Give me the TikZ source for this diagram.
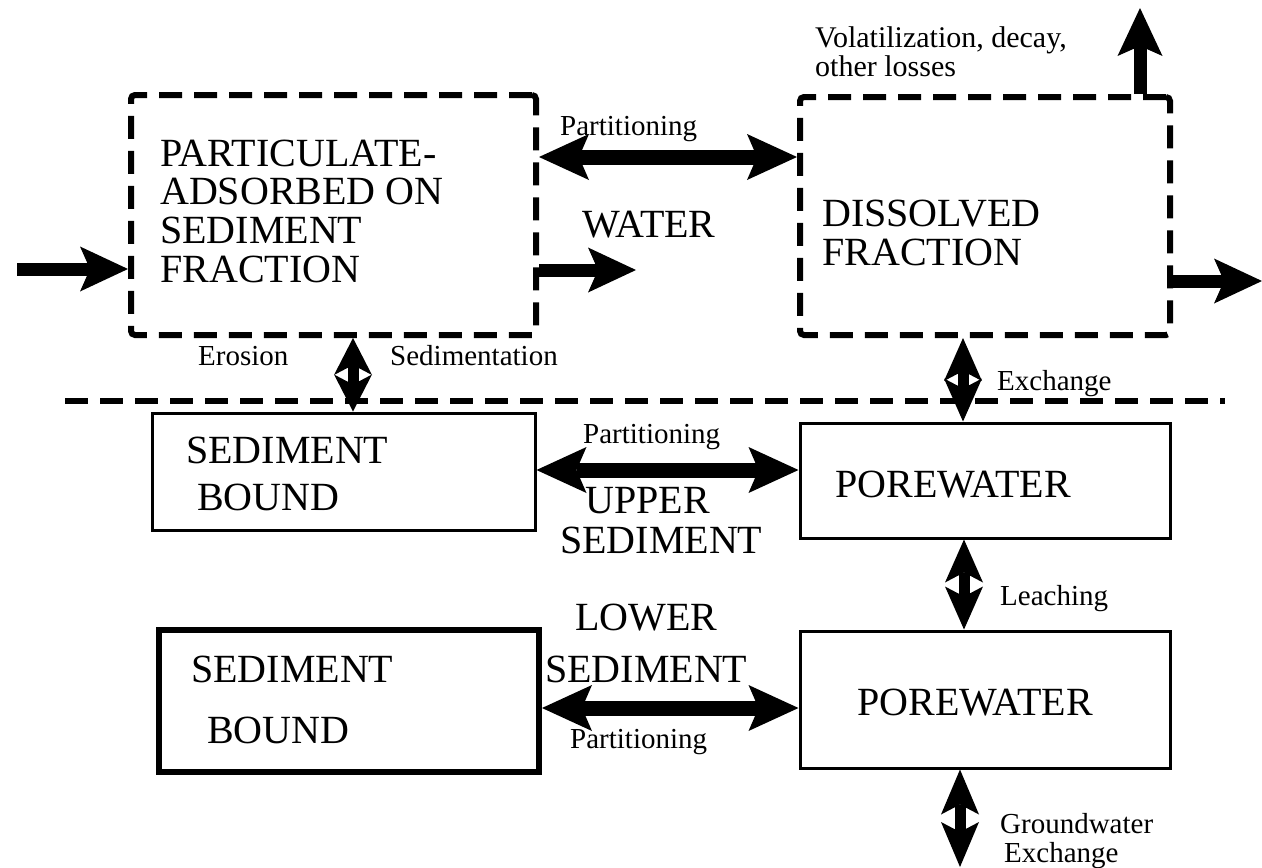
\documentclass[tikz,border=0pt]{standalone}
\usepackage{fontspec}
\setmainfont{Liberation Serif}
\usetikzlibrary{arrows.meta,calc}
\begin{document}
\begin{tikzpicture}[x=1pt,y=-1pt,
  big/.style={font=\fontsize{40}{46}\selectfont, inner sep=0pt, anchor=base west},
  small/.style={font=\fontsize{29}{33}\selectfont, inner sep=0pt, anchor=base west},
  dbox/.style={draw, line width=6pt, dash pattern=on 23pt off 12pt, rounded corners=4pt, inner sep=0pt},
  sbox/.style={draw, line width=3pt, inner sep=0pt},
  tbox/.style={draw, line width=6pt, inner sep=0pt},
  sarrow/.style={line width=13pt, arrows={-Stealth[length=48pt,width=45pt,inset=10pt,line width=0pt]}},
  darrow/.style={line width=15pt, arrows={Stealth[length=50pt,width=46pt,inset=10pt,line width=0pt]-Stealth[length=50pt,width=46pt,inset=10pt,line width=0pt]}},
  vdbl/.style={line width=11pt, arrows={Stealth[length=#1,width=38pt,inset=10pt,line width=0pt]-Stealth[length=#1,width=38pt,inset=10pt,line width=0pt]}},
  dline/.style={line width=6pt, dash pattern=on 23pt off 12pt}]
\useasboundingbox (0,0) rectangle (1262,868);

% boxes
\node[dbox, minimum width=405pt, minimum height=240pt] (pa) at (333.5,215) {};
\node[dbox, minimum width=370pt, minimum height=238pt] (dis) at (985,216) {};
\node[sbox, minimum width=383pt, minimum height=117pt] (sb1) at (343.5,471.5) {};
\node[sbox, minimum width=370pt, minimum height=115pt] (pw1) at (985,480.5) {};
\node[tbox, minimum width=380pt, minimum height=142pt] (sb2) at (349,701) {};
\node[sbox, minimum width=370pt, minimum height=137pt] (pw2) at (985,699.5) {};

% separation line
\draw[dline] (65,401) -- (1225,401);

% helper coordinates
\coordinate (in0) at (17,269);
\coordinate (out1) at (636,270);
\coordinate (out2) at (1262,281);
\coordinate (up) at (1140,8);
\coordinate (gw) at (960,867);
\coordinate (xe) at (353,0);
\coordinate (xx) at (963,0);
\coordinate (xl) at (964,0);
\coordinate (yp1) at (0,157);
\coordinate (yp2) at (0,470);
\coordinate (yp3) at (0,708);

% arrows
\draw[sarrow] (in0) -- (in0 -| pa.west);
\draw[sarrow] (pa.east |- out1) -- (out1);
\draw[sarrow] (dis.east |- out2) -- (out2);
\draw[sarrow] (dis.north -| up) -- (up);
\draw[darrow] (pa.east |- yp1) -- (dis.west |- yp1);
\draw[darrow] (sb1.east |- yp2) -- (pw1.west |- yp2);
\draw[darrow] (sb2.east |- yp3) -- (pw2.west |- yp3);
\draw[vdbl=37pt] (pa.south -| xe) -- (sb1.north -| xe);
\draw[vdbl=43pt] (dis.south -| xx) -- (pw1.north -| xx);
\draw[vdbl=43pt] (pw1.south -| xl) -- (pw2.north -| xl);
\draw[vdbl=45pt] (pw2.south -| gw) -- (gw);

% texts
\node[big] (t1) at (160,166) {PARTICULATE-};
\node[big] (t2) at (160,204) {ADSORBED ON};
\node[big] (t3) at (160,243) {SEDIMENT};
\node[big] (t4) at (160,282) {FRACTION};
\node[big] (tw) at (582,237) {WATER};
\node[big] (td1) at (822,226) {DISSOLVED};
\node[big] (td2) at (822,265) {FRACTION};
\node[small] (tp1) at (560,135) {Partitioning};
\node[small, font=\fontsize{30}{33}\selectfont] (tv1) at (815,47) {Volatilization, decay,};
\node[small, font=\fontsize{30}{33}\selectfont] (tv2) at (815,76) {other losses};
\node[small] (te) at (198,365) {Erosion};
\node[small] (ts) at (390,365) {Sedimentation};
\node[small] (tx) at (997,390) {Exchange};
\node[big] (s1a) at (186,463) {SEDIMENT};
\node[big] (s1b) at (197,510) {BOUND};
\node[small] (tp2) at (583,443) {Partitioning};
\node[big] (u1) at (585,513) {UPPER};
\node[big] (u2) at (560,553) {SEDIMENT};
\node[big] (p1) at (835,497) {POREWATER};
\node[small] (tl) at (1000,605) {Leaching};
\node[big] (l1) at (575,630) {LOWER};
\node[big] (l2) at (545,682) {SEDIMENT};
\node[big] (s2a) at (191,682) {SEDIMENT};
\node[big] (s2b) at (207,743) {BOUND};
\node[big] (p2) at (857,715) {POREWATER};
\node[small] (tp3) at (570,748) {Partitioning};
\node[small] (g1) at (1000,833) {Groundwater};
\node[small] (g2) at (1004,862) {Exchange};
\end{tikzpicture}
\end{document}
